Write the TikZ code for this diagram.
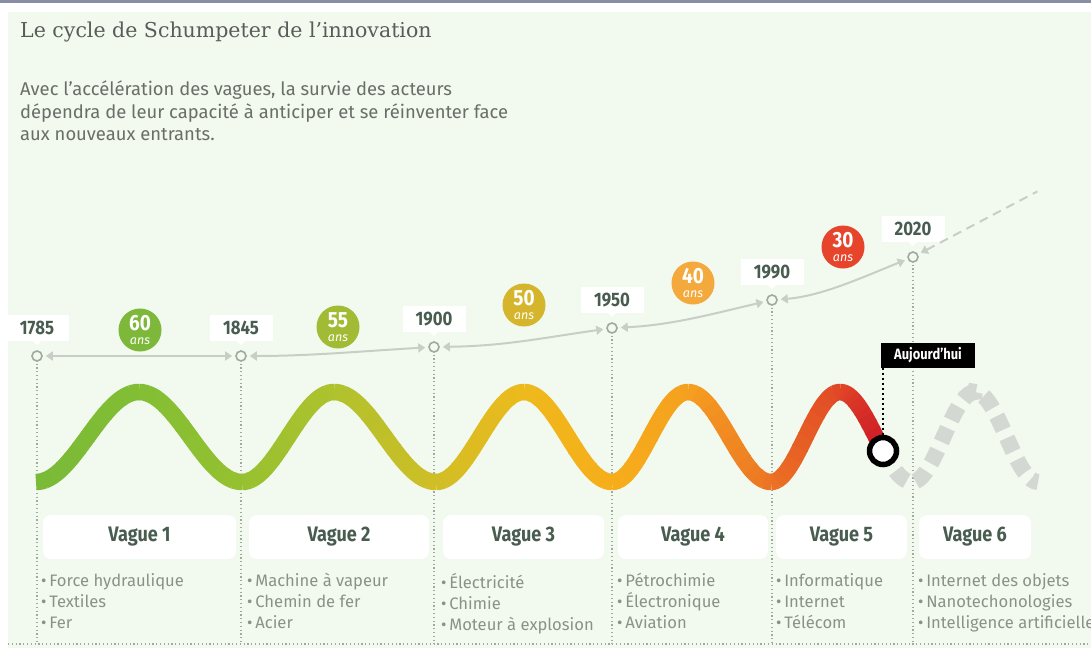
\documentclass[tikz,border=0pt]{standalone}
\usepackage{fontspec}
\setmainfont{Fira Sans}
\newfontfamily\condfont{Fira Sans}[FakeStretch=0.86]
\newfontfamily\titlefont{DejaVu Serif}
\usetikzlibrary{arrows.meta}
\definecolor{bg}{RGB}{242,249,239}
\definecolor{topbar}{RGB}{136,142,164}
\definecolor{titlecol}{RGB}{90,92,90}
\definecolor{leadcol}{RGB}{105,110,104}
\definecolor{yearcol}{RGB}{72,92,80}
\definecolor{itemcol}{RGB}{138,145,137}
\definecolor{guidecol}{RGB}{160,168,160}
\definecolor{spancol}{RGB}{200,206,199}
\definecolor{ghostcol}{RGB}{211,217,210}
\definecolor{d60}{RGB}{125,184,58}
\definecolor{d55}{RGB}{162,187,53}
\definecolor{d50}{RGB}{212,181,44}
\definecolor{d40}{RGB}{243,169,59}
\definecolor{d30}{RGB}{230,69,43}
\definecolor{w0}{RGB}{122,186,56}
\definecolor{w1}{RGB}{130,190,52}
\definecolor{w2}{RGB}{150,193,48}
\definecolor{w3}{RGB}{175,194,45}
\definecolor{w4}{RGB}{208,190,38}
\definecolor{w5}{RGB}{238,186,28}
\definecolor{w6}{RGB}{246,174,26}
\definecolor{w7}{RGB}{245,160,32}
\definecolor{w8}{RGB}{236,115,36}
\definecolor{w9}{RGB}{225,70,38}
\definecolor{w10}{RGB}{205,25,40}

\begin{document}
\begin{tikzpicture}[x=1pt,y=-1pt,
  >={Triangle[length=7pt,width=9pt]},
  tick/.style={draw=guidecol,circle,line width=1.6pt,fill=bg,minimum size=10pt,inner sep=0pt},
  yearbox/.style={fill=white,minimum width=63pt,minimum height=26pt,inner sep=0pt,
    text=yearcol,font=\condfont\fontsize{19.5}{19.5}\selectfont\bfseries},
  ans/.style={circle,minimum size=43pt,inner sep=0pt,text=white,align=center},
  span/.style={draw=spancol,line width=2pt,shorten <=3pt,shorten >=3pt},
  guide/.style={draw=guidecol,line width=1.1pt,dash pattern=on 1.2pt off 2.6pt},
  wave/.style={line width=16.5pt},
  ghost/.style={draw=ghostcol,line width=16pt,dash pattern=on 15pt off 9pt},
  vague/.style={fill=white,rounded corners=8pt,minimum height=44pt,inner sep=0pt,
    text=yearcol,font=\condfont\fontsize{21}{21}\selectfont\bfseries},
  items/.style={anchor=north west,align=left,inner sep=0pt,text=itemcol,
    font=\fontsize{16.6}{21}\selectfont}]
  \useasboundingbox (0,0) rectangle (1091,648);
  \fill[bg] (8,12) rectangle (1091,648);
  \fill[topbar] (0,0) rectangle (1091,3);
  \draw[guide] (8,644) -- (1091,644);

  % titles
  \node[anchor=base west,inner sep=0pt,text=titlecol,font=\titlefont\fontsize{20.5}{20.5}\selectfont]
    (title) at (20,37) {Le cycle de Schumpeter de l’innovation};
  \node[anchor=north west,align=left,inner sep=0pt,text=leadcol,font=\fontsize{18.4}{22.5}\selectfont]
    (lead) at (20,81) {Avec l’accélération des vagues, la survie des acteurs\\
    dépendra de leur capacité à anticiper et se réinventer face\\aux nouveaux entrants.};

  % dates
  \foreach \yr/\px/\py in {1785/37/356,1845/241/356,1900/434/347,1950/612/328,1990/772/300,2020/913/257}{
    \draw[guide] (\px,\py) -- (\px,644);
    \node[tick] (p\yr) at (\px,\py) {};
    \node[yearbox] (y\yr) at (\px,\py-28) {\yr};
    \fill[white] ([xshift=-4pt]y\yr.south) -- ([xshift=4pt]y\yr.south) -- ([yshift=-4pt]y\yr.south) -- cycle;
  }
  \draw[span,<->] (p1785) -- (p1845);
  \draw[span,<->] (p1845) .. controls +(70,0) and +(-70,4) .. (p1900);
  \draw[span,<->] (p1900) .. controls +(70,-1) and +(-70,10) .. (p1950);
  \draw[span,<->] (p1950) .. controls +(60,-3) and +(-60,14) .. (p1990);
  \draw[span,<->] (p1990) .. controls +(50,-4) and +(-50,20) .. (p2020);
  \coordinate (fut) at (1040,190);
  \draw[span,dash pattern=on 9pt off 6pt,<-] (p2020) -- (fut);

  % durations
  \foreach \n/\cx/\cy in {60/140/330,55/338/327,50/524/305,40/693/283,30/843/247}
    \node[ans,fill=d\n] (a\n) at (\cx,\cy)
      {\condfont\fontsize{22}{17}\selectfont\bfseries\n\\[2.5pt]\fontsize{12.5}{10}\selectfont\itshape ans};

  % the wave
  \foreach \xa/\xb/\s/\xe/\ca/\cb in {36/139/1/139/w0/w1,139/242/-1/242/w1/w2,242/334/1/334/w2/w3,
      334/436/-1/436/w3/w4,436/524/1/524/w4/w5,524/612/-1/612/w5/w6,612/688/1/688/w6/w7,
      688/771/-1/771/w7/w8,771/840/1/840/w8/w9,840/912/-1/883/w9/w10}{
    \pgfmathsetmacro\fr{180/(\xb-\xa)}
    \foreach \i in {1,...,12}{
      \pgfmathsetmacro\ta{\xa+(\xe-\xa)*(\i-1)/12}
      \pgfmathsetmacro\tb{\xa+(\xe-\xa)*\i/12+0.6}
      \pgfmathsetmacro\pc{(\i-0.5)*100/12}
      \colorlet{segc}{\cb!\pc!\ca}
      \draw[wave,draw=segc] plot[domain=\ta:\tb,samples=4] (\x,{437+\s*45*cos(\fr*(\x-\xa))});
    }
  }
  \draw[ghost] plot[domain=883:912,samples=12] (\x,{437-45*cos(2.5*(\x-840))})
    -- plot[domain=912:975,samples=20] (\x,{437+45*cos(2.857*(\x-912))})
    -- plot[domain=975:1038,samples=20] (\x,{437-45*cos(2.857*(\x-975))});
  \node[circle,draw=black,line width=5.5pt,fill=white,minimum size=27pt] (cnow) at (883,451) {};
  \node[fill=black,text=white,minimum width=94pt,minimum height=25pt,inner sep=0pt,
    font=\condfont\fontsize{15}{15}\selectfont\bfseries] (now) at (928,355) {Aujourd’hui};
  \draw[black,line width=2.5pt,dash pattern=on 2.5pt off 2.5pt] (now.south -| cnow.north) -- (cnow.north);

  % waves
  \foreach \k/\vx/\vw in {1/139.5/193,2/339/180,3/523.5/161,4/693/150,5/841.5/131,6/975/112}
    \node[vague,minimum width=\vw pt] (v\k) at (\vx,537) {Vague \k};
  \node[items] (l1) at (41,573) {•\,Force hydraulique\\•\,Textiles\\•\,Fer};
  \node[items] (l2) at (247,573) {•\,Machine à vapeur\\•\,Chemin de fer\\•\,Acier};
  \node[items] (l3) at (441,573) {•\,Électricité\\•\,Chimie\\•\,Moteur à explosion};
  \node[items] (l4) at (617,573) {•\,Pétrochimie\\•\,Électronique\\•\,Aviation};
  \node[items] (l5) at (776,573) {•\,Informatique\\•\,Internet\\•\,Télécom};
  \node[items] (l6) at (918,573) {•\,Internet des objets\\•\,Nanotechonologies\\•\,Intelligence artificielle};
\end{tikzpicture}
\end{document}
